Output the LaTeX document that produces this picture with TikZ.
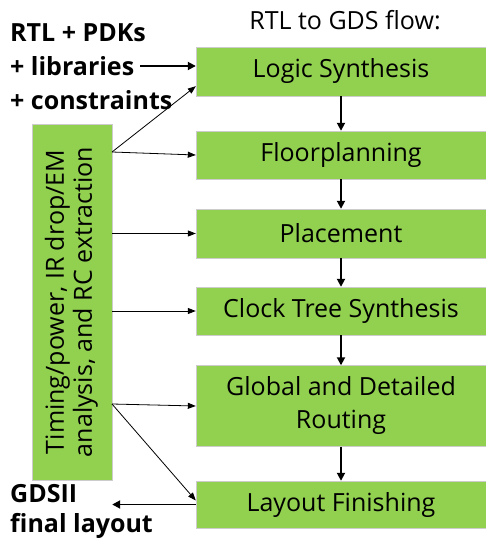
\documentclass[tikz,border=0pt]{standalone}
\usepackage{fontspec}
\setmainfont{Open Sans}
\usetikzlibrary{arrows.meta}
\definecolor{stepgreen}{RGB}{146,208,80}
\newcommand{\flowfont}{\fontsize{25}{29}\selectfont}
\tikzset{
  stepbox/.style={draw=black!20,fill=stepgreen,minimum width=290pt,inner sep=0pt,
    font=\flowfont,align=center},
  flow/.style={black,line width=1.8pt,-{Triangle[length=8pt,width=8pt]}},
  feed/.style={black,line width=0.8pt,-{Triangle[length=8pt,width=6pt]}},
  iolabel/.style={anchor=west,inner sep=0pt,font=\flowfont\bfseries}
}
\begin{document}
\begin{tikzpicture}[x=1pt,y=-1pt]
  \useasboundingbox (0,0) rectangle (486,540);
  \node[font=\flowfont] (title) at (345,20) {RTL to GDS flow:};
  \node[stepbox,minimum height=49pt] (ls)  at (341,71.5)  {Logic Synthesis};
  \node[stepbox,minimum height=48pt] (fp)  at (341,155)   {Floorplanning};
  \node[stepbox,minimum height=49pt] (pl)  at (341,233.5) {Placement};
  \node[stepbox,minimum height=48pt] (cts) at (341,311)   {Clock Tree Synthesis};
  \node[stepbox,minimum height=81pt] (gdr) at (341,406)   {Global and Detailed\\[4pt]Routing};
  \node[stepbox,minimum height=47pt] (lf)  at (341,504.5) {Layout Finishing};
  \node[draw=black!20,fill=stepgreen,minimum width=80pt,minimum height=356pt,inner sep=0pt]
    (ana) at (72,302)
    {\rotatebox{90}{\flowfont\begin{tabular}{@{}c@{}}Timing/power, IR drop/EM\\[-1pt]
      analysis, and RC extraction\end{tabular}}};
  \node[iolabel] (rtl)  at (10,33)  {RTL + PDKs};
  \node[iolabel] (lib)  at (10,66)  {+ libraries};
  \node[iolabel] (con)  at (10,100) {+ constraints};
  \node[iolabel] (gds)  at (10,494) {GDSII};
  \node[iolabel] (fin)  at (10,526) {final layout};
  \coordinate (fan1) at (112,152);
  \coordinate (fan2) at (112,404);
  \draw[flow] (ls) -- (fp);
  \draw[flow] (fp) -- (pl);
  \draw[flow] (pl) -- (cts);
  \draw[flow] (cts) -- (gdr);
  \draw[flow] (gdr) -- (lf);
  \draw[flow] ([xshift=6pt]lib.east) -- (ls.west |- lib.east);
  \draw[flow] (lf.west) -- (lf.west -| ana.east);
  \draw[feed] (fan1) -- ([yshift=10pt]ls.south west);
  \draw[feed] (fan1) -- (fp.west);
  \draw[feed] (ana.east |- pl.west) -- (pl.west);
  \draw[feed] (ana.east |- cts.west) -- (cts.west);
  \draw[feed] (fan2) -- (gdr.west);
  \draw[feed] (fan2) -- ([yshift=4pt]lf.west);
\end{tikzpicture}
\end{document}
